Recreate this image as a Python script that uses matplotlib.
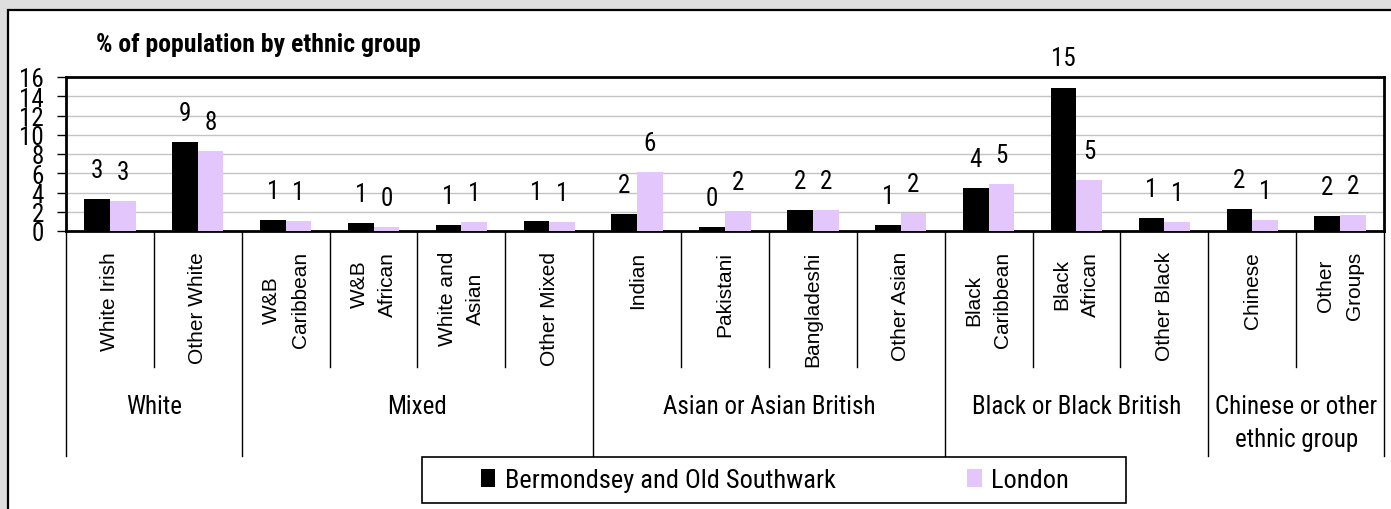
import numpy as np
import matplotlib
matplotlib.use("Agg")
import matplotlib.pyplot as plt
from matplotlib import font_manager as fm
from matplotlib.patches import Rectangle, Patch
from matplotlib.lines import Line2D
import matplotlib.transforms as mtransforms

# ---------------- data ----------------
categories = ["White Irish", "Other White", "W&B\nCaribbean", "W&B\nAfrican",
              "White and\nAsian", "Other Mixed", "Indian", "Pakistani",
              "Bangladeshi", "Other Asian", "Black\nCaribbean", "Black\nAfrican",
              "Other Black", "Chinese", "Other\nGroups"]
groups = ["White", "Mixed", "Asian or Asian British", "Black or Black British",
          "Chinese or other\nethnic group"]
group_sizes = [2, 4, 4, 3, 2]
bermondsey = [3.3, 9.25, 1.1, 0.8, 0.6, 1.0, 1.74, 0.38, 2.16, 0.59, 4.45, 14.9, 1.32, 2.26, 1.53]
london = [3.1, 8.3, 1.0, 0.45, 0.9, 0.9, 6.1, 2.05, 2.16, 1.85, 4.87, 5.29, 0.9, 1.1, 1.64]
series_names = ["Bermondsey and Old Southwark", "London"]
yticks = [0, 2, 4, 6, 8, 10, 12, 14, 16]
title = "% of population by ethnic group"

# ---------------- fonts ----------------
def pick_narrow():
    fl = fm.fontManager.ttflist
    for name in ["Liberation Sans Narrow", "Arial Narrow", "Roboto Condensed",
                 "Open Sans Condensed", "Noto Sans Condensed"]:
        if any(f.name == name for f in fl):
            return dict(family=name), 1.0
    for fam in ["Noto Sans", "Open Sans", "Roboto", "Inter"]:
        for st in ["condensed", "semi-condensed"]:
            if any(f.name == fam and str(f.stretch) == st for f in fl):
                return dict(family=fam, stretch=st), 1.0
    return dict(family="Liberation Sans"), 0.84

NARROW, SC = pick_narrow()
REG = dict(family="Liberation Sans")

W, H = 1391, 510
fig = plt.figure(figsize=(W / 100, H / 100), dpi=100)
fig.patch.set_facecolor("#dedede")

def fx(px):
    return px / W

def fy(py):
    return 1 - py / H

# white panel
fig.add_artist(Rectangle((fx(7.5), -0.2), 1.2, fy(10.5) + 0.2, transform=fig.transFigure,
                         facecolor="white", edgecolor="black", linewidth=1.6, zorder=0))

ax_l, ax_r, ax_t, ax_b = 66, 1384, 78, 232
ax = fig.add_axes([fx(ax_l), fy(ax_b), (ax_r - ax_l) / W, (ax_b - ax_t) / H])
ax.set_facecolor("white")

n = len(categories)
x = np.arange(n)
bw = 0.292
ax.bar(x - bw / 2, bermondsey, bw, color="black", zorder=3)
ax.bar(x + bw / 2, london, bw, color="#e3c6fb", zorder=3)

for xi, v in zip(x - bw / 2, bermondsey):
    ax.annotate(f"{int(np.floor(v + 0.5))}", xy=(xi, v), xytext=(0, 21),
                textcoords="offset points", ha="center", va="center",
                fontsize=18 * SC, **NARROW)
for xi, v in zip(x + bw / 2, london):
    ax.annotate(f"{int(np.floor(v + 0.5))}", xy=(xi, v), xytext=(0, 21),
                textcoords="offset points", ha="center", va="center",
                fontsize=18 * SC, **NARROW)

ax.set_xlim(-0.5, n - 0.5)
ax.set_ylim(0, 16)
ax.set_yticks(yticks)
ax.set_yticklabels([str(t) for t in yticks], fontsize=18 * SC, **NARROW)
ax.tick_params(axis="y", length=6.5, width=1, pad=9.4, color="black")
ax.set_xticks([])
ax.yaxis.grid(True, color="#c4c4c4", linewidth=1, zorder=0)
ax.set_axisbelow(True)
for s in ax.spines.values():
    s.set_linewidth(2)
    s.set_color("black")

# multi-level x axis
trans = mtransforms.blended_transform_factory(ax.transData, ax.transAxes)

def af(py):
    return (ax_b - py) / (ax_b - ax_t)

bounds = np.cumsum([0] + group_sizes) - 0.5
for b in range(1, n):
    xb = b - 0.5
    if xb in bounds:
        continue
    ax.add_line(Line2D([xb, xb], [0, af(368)], transform=trans, color="black",
                       linewidth=1, clip_on=False))
for xb in bounds:
    ax.add_line(Line2D([xb, xb], [0, af(457)], transform=trans, color="black",
                       linewidth=1, clip_on=False))

for xi, lab in zip(x, categories):
    ax.text(xi, af(252), lab, transform=trans, rotation=90, ha="center", va="top",
            multialignment="center", fontsize=15, linespacing=1.65, **REG)

for i, g in enumerate(groups):
    cx = (bounds[i] + bounds[i + 1]) / 2
    ax.text(cx, af(395), g, transform=trans, ha="center", va="top",
            multialignment="center", fontsize=18 * SC, linespacing=1.45, **NARROW)

# title
fig.text(fx(96), fy(45), title, ha="left", va="center", fontsize=18.5 * SC,
         fontweight="bold", **NARROW)

# legend
fig.add_artist(Rectangle((fx(422), fy(504)), (1126 - 422) / W, (504 - 458) / H,
                         transform=fig.transFigure, facecolor="white",
                         edgecolor="black", linewidth=1.2, zorder=5))
handles = [Patch(facecolor="black"), Patch(facecolor="#e3c6fb")]
leg = fig.legend(handles, series_names, loc="center",
                 bbox_to_anchor=(fx(775), fy(481)), ncol=2, frameon=False,
                 handlelength=0.55, handleheight=0.7, handletextpad=0.35,
                 columnspacing=5.0, prop=fm.FontProperties(size=19 * SC, **NARROW))
leg.set_zorder(6)

fig.savefig("out.png", dpi=100, facecolor=fig.get_facecolor())
